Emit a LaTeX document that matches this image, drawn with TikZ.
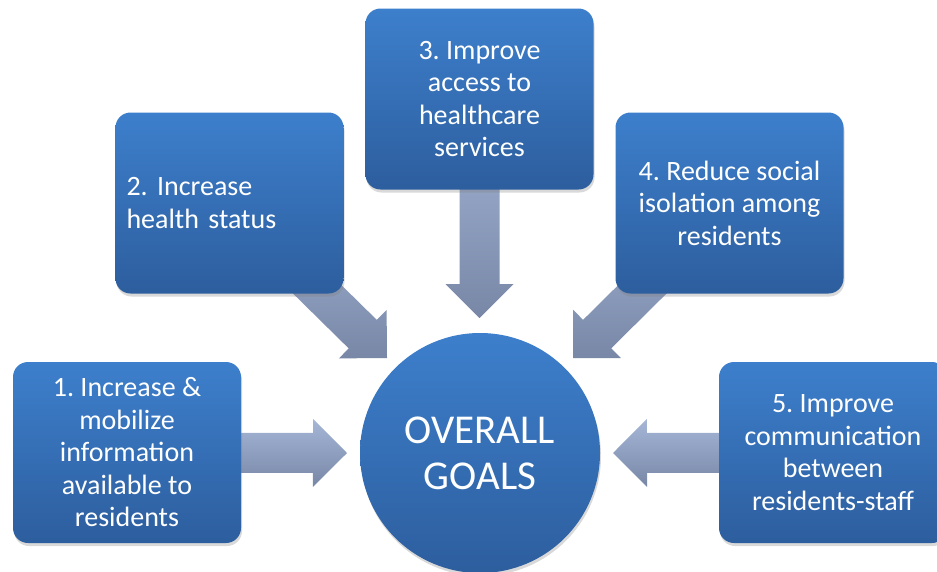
\documentclass[tikz,border=0pt]{standalone}
\usepackage{fontspec}
\setmainfont{Carlito}
\usetikzlibrary{calc,shadows,backgrounds}
\frenchspacing
\definecolor{boxtop}{RGB}{61,127,204}
\definecolor{boxbot}{RGB}{45,94,158}
\definecolor{arrtop}{RGB}{165,182,215}
\definecolor{arrbot}{RGB}{120,135,166}
\tikzset{
  goalbox/.style={rounded corners=15pt, minimum width=228pt, minimum height=181pt,
    top color=boxtop, bottom color=boxbot, text=white, inner sep=0pt,
    font=\fontsize{28}{32.5}\selectfont, align=center,
    drop shadow={shadow xshift=1pt, shadow yshift=-3pt, opacity=0.3}},
  goalcircle/.style={circle, minimum size=240pt, inner sep=0pt,
    top color=boxtop, bottom color=boxbot, text=white,
    font=\fontsize{41}{46}\selectfont, align=center,
    drop shadow={shadow xshift=1pt, shadow yshift=-3pt, opacity=0.3}},
  bigarrow/.style={top color=arrtop, bottom color=arrbot}
}
\newcommand\blockarrow[3]{%
  \coordinate (#3h) at ($(#2)!34pt!(#1)$);
  \path[bigarrow] ($(#1)!20pt!90:(#2)$) -- ($(#3h)!20pt!90:(#2)$)
    -- ($(#3h)!34pt!90:(#2)$) -- (#2) -- ($(#3h)!34pt!-90:(#2)$)
    -- ($(#3h)!20pt!-90:(#2)$) -- ($(#1)!20pt!-90:(#2)$) -- cycle;}
\begin{document}
\begin{tikzpicture}[x=1pt,y=-1pt]
  \useasboundingbox (0,0) rectangle (937,571);
  \clip (0,0) rectangle (937,571);
  \node[goalcircle] (goal) at (480,453) {OVERALL\\GOALS};
  \node[goalbox] (b1) at (127,452.5) {1. Increase \&\\mobilize\\information\\available to\\residents};
  \node[goalbox, text width=206pt, align=left] (b2) at (229.5,203) {2. Increase\\health status};
  \node[goalbox] (b3) at (479.5,99) {3. Improve\\access to\\healthcare\\services};
  \node[goalbox] (b4) at (729.5,203) {4. Reduce social\\isolation among\\residents};
  \node[goalbox] (b5) at (833,452.5) {5. Improve\\communication\\between\\residents-staff};
  \coordinate (t1) at (347,453);
  \coordinate (t2) at (387,358);
  \coordinate (t3) at (479.5,318);
  \coordinate (t4) at (573,358);
  \coordinate (t5) at (613,453);
  \begin{pgfonlayer}{background}
    \blockarrow{b1.center}{t1}{a1}
    \blockarrow{b2.center}{t2}{a2}
    \blockarrow{b3.center}{t3}{a3}
    \blockarrow{b4.center}{t4}{a4}
    \blockarrow{b5.center}{t5}{a5}
  \end{pgfonlayer}
\end{tikzpicture}
\end{document}
